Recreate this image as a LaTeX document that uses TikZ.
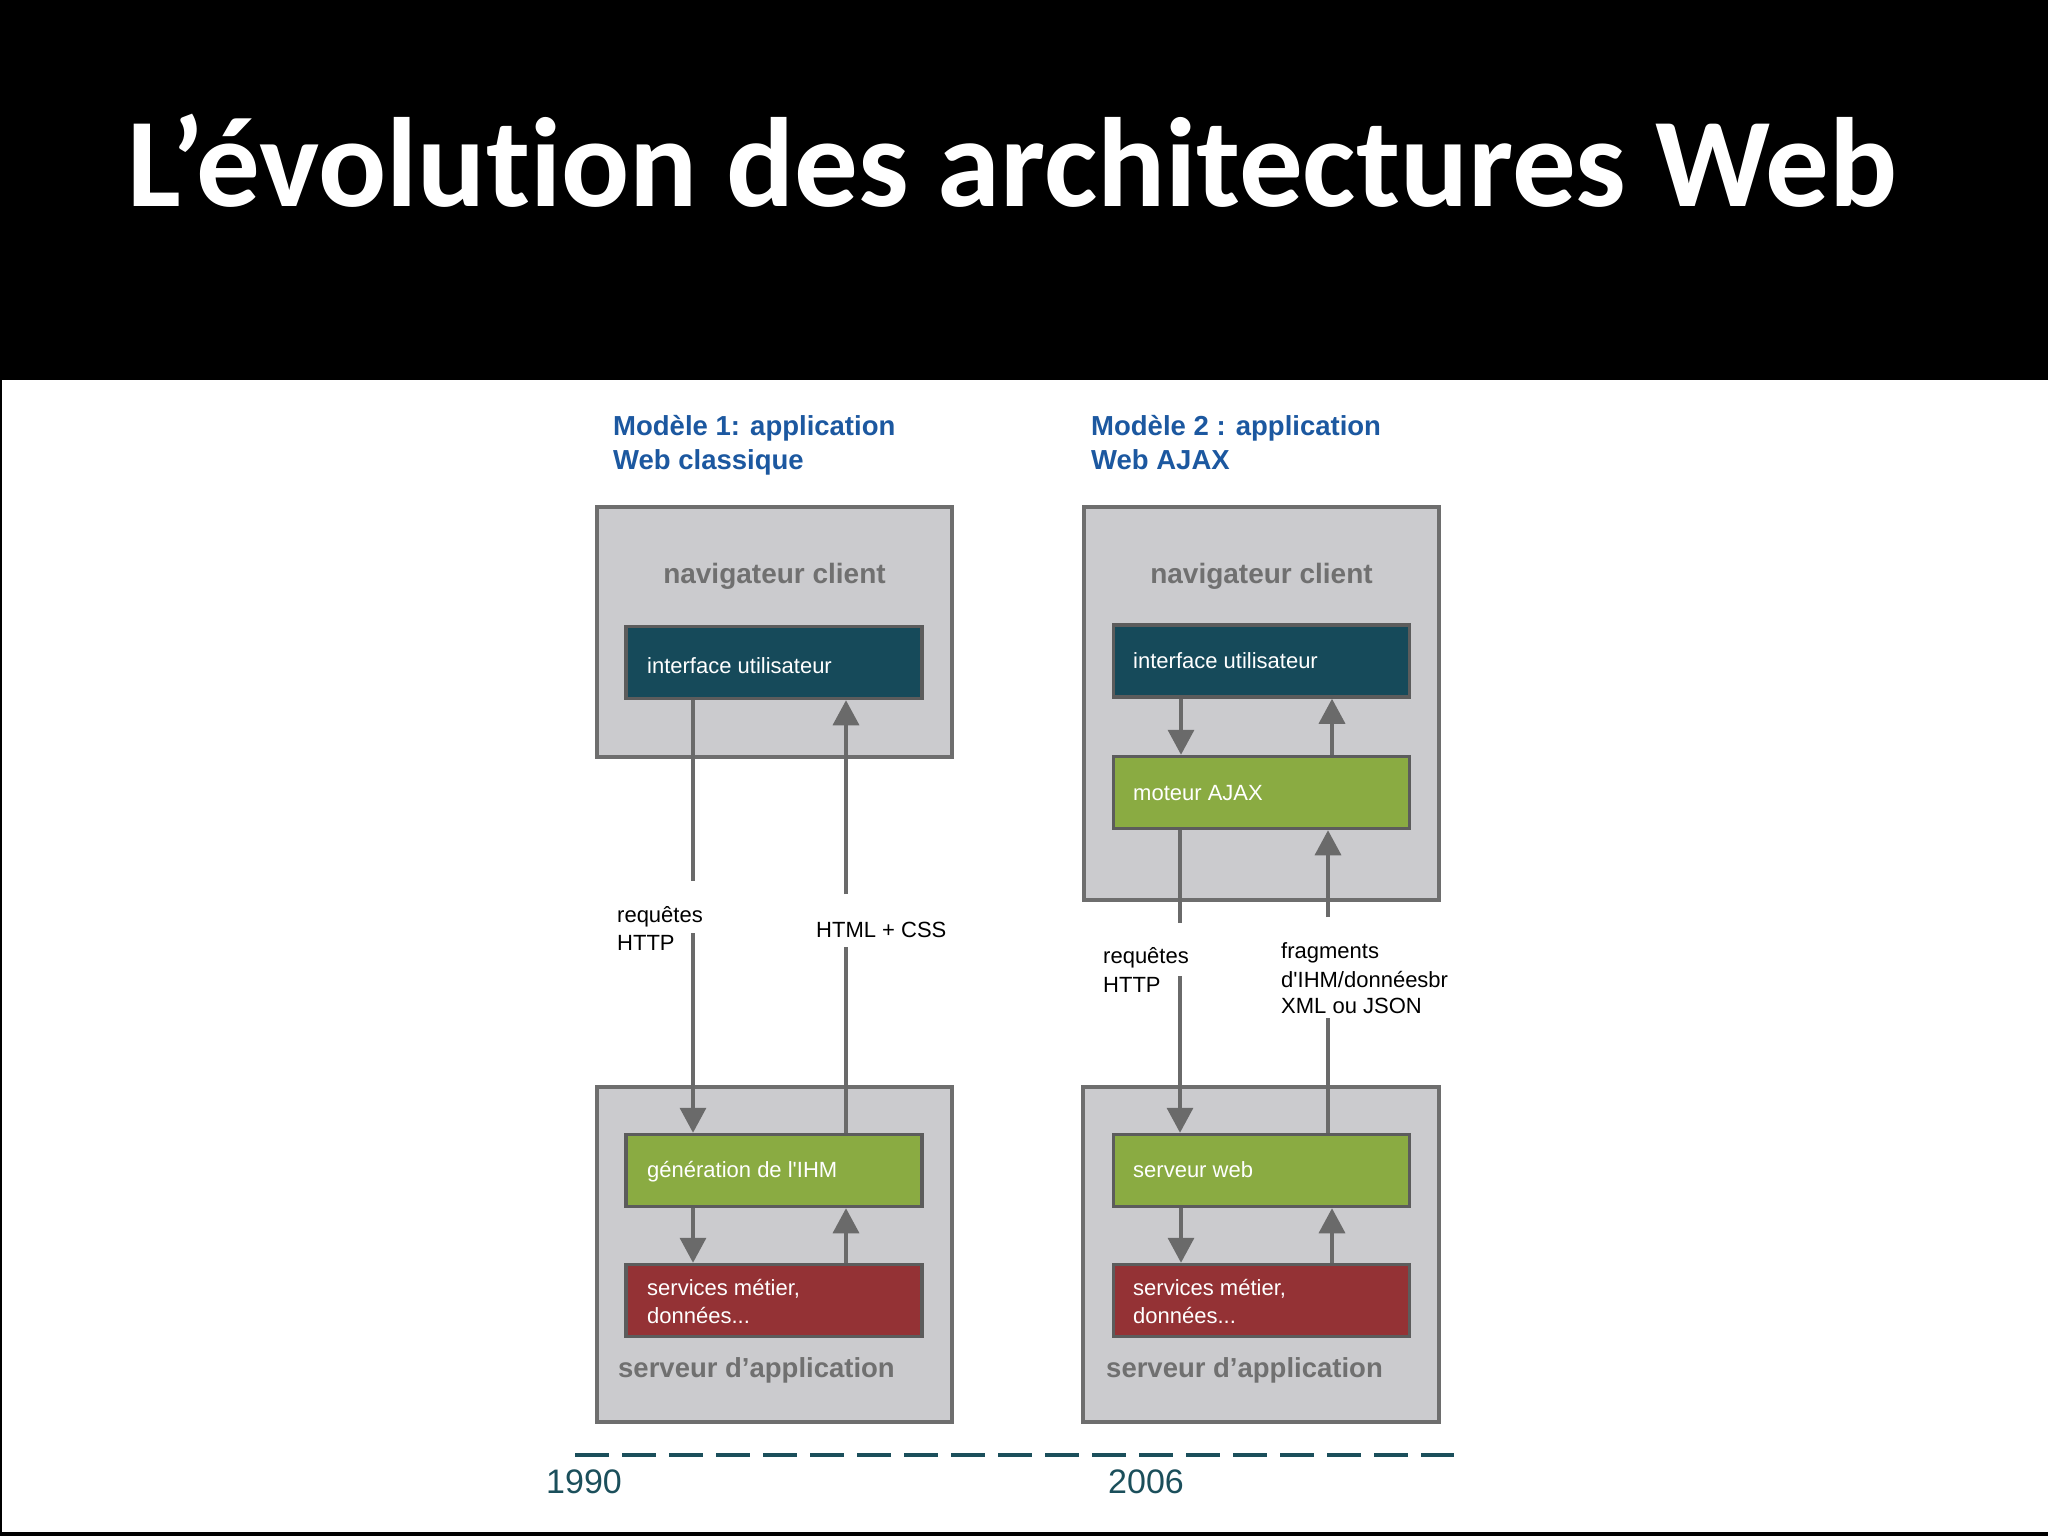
\documentclass[tikz,border=0pt]{standalone}
\usepackage{fontspec}
\setmainfont{Liberation Sans}
\newfontfamily\titlefont{Carlito}[Ligatures=NoCommon]
\usetikzlibrary{arrows.meta}
\definecolor{hdrblue}{HTML}{1C58A0}
\definecolor{boxfill}{HTML}{CBCBCE}
\definecolor{boxline}{HTML}{6E6E6E}
\definecolor{innerline}{HTML}{5C5C5C}
\definecolor{tealfill}{HTML}{164A5A}
\definecolor{greenfill}{HTML}{8AAB42}
\definecolor{redfill}{HTML}{943235}
\definecolor{arrowc}{HTML}{6A6A6A}
\definecolor{graytext}{HTML}{707070}
\definecolor{dashc}{HTML}{1B4F5B}
\tikzset{
  outerbox/.style={draw=boxline, fill=boxfill, line width=3.5pt, inner sep=0pt},
  innerbox/.style={draw=innerline, line width=3.5pt, inner sep=0pt, minimum width=296pt, minimum height=72pt},
  txt/.style={inner sep=0pt, anchor=base west},
  boxtxt/.style={txt, text=white, font=\fontsize{22pt}{27pt}\selectfont},
  lbltxt/.style={txt, text=black, font=\fontsize{22pt}{27pt}\selectfont},
  hdrtxt/.style={txt, text=hdrblue, font=\bfseries\fontsize{27.5pt}{32pt}\selectfont},
  graytxt/.style={inner sep=0pt, anchor=base, text=graytext, font=\bfseries\fontsize{28pt}{32pt}\selectfont},
  yeartxt/.style={txt, text=dashc, font=\fontsize{34pt}{40pt}\selectfont},
  arr/.style={draw=arrowc, line width=3.5pt, -{Triangle[length=25pt,width=26pt]}}
}
\begin{document}
\begin{tikzpicture}[x=1pt,y=-1pt]
\useasboundingbox (0,0) rectangle (2048,1536);
\fill[white] (0,0) rectangle (2048,1536);
\fill[black] (0,0) rectangle (2048,380);
\fill[black] (0,1532) rectangle (2048,1536);
\fill[black] (0,380) rectangle (2,1532);

\node[txt, text=white, font=\titlefont\bfseries\fontsize{127pt}{150pt}\selectfont] (title) at (127,206) {L’évolution des architectures Web};

% headers
\node[hdrtxt] (h1a) at (613,435) {Modèle 1: application};
\node[hdrtxt] (h1b) at (613,469) {Web classique};
\node[hdrtxt] (h2a) at (1091,435) {Modèle 2 : application};
\node[hdrtxt] (h2b) at (1091,469) {Web AJAX};

% left model
\node[outerbox, minimum width=355pt, minimum height=250pt] (client1) at (774.5,632) {};
\node[graytxt] (nav1) at (774.5,583) {navigateur client};
\node[innerbox, fill=tealfill] (iu1) at (774,662.5) {};
\node[boxtxt] (iu1t) at (647,673) {interface utilisateur};

\node[outerbox, minimum width=355pt, minimum height=335pt] (server1) at (774.5,1254.5) {};
\node[innerbox, fill=greenfill] (gen1) at (774,1170.5) {};
\node[boxtxt] (gen1t) at (647,1177) {génération de l\textquotesingle IHM};
\node[innerbox, fill=redfill] (svc1) at (774,1300.5) {};
\node[boxtxt] (svc1t) at (647,1295) {services métier,};
\node[boxtxt] (svc1u) at (647,1323) {données...};
\node[txt, text=graytext, font=\bfseries\fontsize{27.5pt}{32pt}\selectfont] (srv1) at (618,1377) {serveur d’application};

\coordinate (g1a) at (693,881);
\coordinate (g1b) at (693,933);
\coordinate (g2a) at (846,947);
\coordinate (g2b) at (846,894);
\draw[arr] ([xshift=-81pt]iu1.south) -- (g1a) (g1b) -- ([xshift=-81pt]gen1.north);
\draw[arr] ([xshift=72pt]gen1.north) -- (g2a) (g2b) -- ([xshift=72pt]iu1.south);
\draw[arr] ([xshift=-81pt]gen1.south) -- ([xshift=-81pt]svc1.north);
\draw[arr] ([xshift=72pt]svc1.north) -- ([xshift=72pt]gen1.south);

\node[lbltxt] (req1) at (617,922) {requêtes};
\node[lbltxt] (req1b) at (617,950) {HTTP};
\node[lbltxt] (html) at (816,937) {HTML + CSS};

% right model
\node[outerbox, minimum width=355pt, minimum height=393pt] (client2) at (1261.5,703.5) {};
\node[graytxt] (nav2) at (1261.5,583) {navigateur client};
\node[innerbox, fill=tealfill] (iu2) at (1261.5,661) {};
\node[boxtxt] (iu2t) at (1133,668) {interface utilisateur};
\node[innerbox, fill=greenfill] (ajax) at (1261.5,792.5) {};
\node[boxtxt] (ajaxt) at (1133,800) {moteur AJAX};

\node[outerbox, minimum width=356pt, minimum height=335pt] (server2) at (1261,1254.5) {};
\node[innerbox, fill=greenfill] (web) at (1261.5,1170.5) {};
\node[boxtxt] (webt) at (1133,1177) {serveur web};
\node[innerbox, fill=redfill] (svc2) at (1261.5,1300.5) {};
\node[boxtxt] (svc2t) at (1133,1295) {services métier,};
\node[boxtxt] (svc2u) at (1133,1323) {données...};
\node[txt, text=graytext, font=\bfseries\fontsize{27.5pt}{32pt}\selectfont] (srv2) at (1106,1377) {serveur d’application};

\draw[arr] ([xshift=-80.5pt]iu2.south) -- ([xshift=-80.5pt]ajax.north);
\draw[arr] ([xshift=70.5pt]ajax.north) -- ([xshift=70.5pt]iu2.south);
\coordinate (g3a) at (1180,923);
\coordinate (g3b) at (1180,976);
\coordinate (g4a) at (1328,1018);
\coordinate (g4b) at (1328,917);
\draw[arr] ([xshift=-81.5pt]ajax.south) -- (g3a) (g3b) -- ([xshift=-81.5pt]web.north);
\draw[arr] ([xshift=66.5pt]web.north) -- (g4a) (g4b) -- ([xshift=66.5pt]ajax.south);
\draw[arr] ([xshift=-80.5pt]web.south) -- ([xshift=-80.5pt]svc2.north);
\draw[arr] ([xshift=70.5pt]svc2.north) -- ([xshift=70.5pt]web.south);

\node[lbltxt] (req2) at (1103,963) {requêtes};
\node[lbltxt] (req2b) at (1103,992) {HTTP};
\node[lbltxt] (frag1) at (1281,958) {fragments};
\node[lbltxt] (frag2) at (1281,987) {d\textquotesingle IHM/donnéesbr};
\node[lbltxt] (frag3) at (1281,1013) {XML ou JSON};

% timeline
\coordinate (tl0) at (575,1455);
\coordinate (tl1) at (1454,1455);
\draw[dashc, line width=4.5pt, dash pattern=on 34pt off 13pt] (tl0) -- (tl1);
\node[yeartxt] (y1990) at (546,1493) {1990};
\node[yeartxt] (y2006) at (1108,1493) {2006};
\end{tikzpicture}
\end{document}
